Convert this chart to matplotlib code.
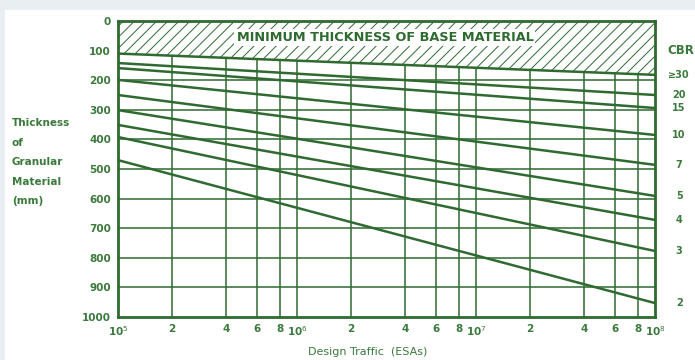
import matplotlib.pyplot as plt
import numpy as np

# CBR curves: thickness of granular material (mm) at 10^5 and 10^8 ESAs
cbr_labels = ["≥30", "20", "15", "10", "7", "5", "4", "3", "2"]
thick_at_1e5 = [110, 142, 159, 199, 250, 301, 351, 392, 470]
thick_at_1e8 = [182, 250, 294, 385, 486, 591, 672, 777, 953]
traffic_ends = [1e5, 1e8]

x_ticks = [1e5, 2e5, 4e5, 6e5, 8e5, 1e6, 2e6, 4e6, 6e6, 8e6,
           1e7, 2e7, 4e7, 6e7, 8e7, 1e8]
x_tick_labels = ["10$^5$", "2", "4", "6", "8", "10$^6$", "2", "4", "6", "8",
                 "10$^7$", "2", "4", "6", "8", "10$^8$"]
y_ticks = list(range(0, 1001, 100))

green = "#2f6a31"
text_green = "#3b7a3c"

fig = plt.figure(figsize=(6.95, 3.6), dpi=100, facecolor="#e9eef3")
fig.add_artist(plt.Rectangle((5 / 695, 0), 1, 1 - 10 / 360,
                             transform=fig.transFigure, color="white", zorder=-5))
ax = fig.add_axes([118 / 695, 1 - 317 / 360, (655 - 118) / 695, (317 - 21) / 360])
ax.set_facecolor("white")
ax.set_xscale("log")
ax.set_xlim(1e5, 1e8)
ax.set_ylim(1000, 0)

# grid
for xv in x_ticks[1:-1]:
    ax.axvline(xv, color=green, lw=1.3, alpha=0.85, zorder=1)
for yv in y_ticks[1:-1]:
    ax.axhline(yv, color=green, lw=1.3, alpha=0.85, zorder=1)

# hatched minimum thickness zone above the CBR>=30 line
plt.rcParams["hatch.linewidth"] = 0.7
ax.fill_between(traffic_ends, [0, 0], [thick_at_1e5[0], thick_at_1e8[0]],
                facecolor="white", edgecolor=green, hatch="///", lw=0, zorder=2)

for a, b in zip(thick_at_1e5, thick_at_1e8):
    ax.plot(traffic_ends, [a, b], color=green, lw=1.8, zorder=3)

ax.text(3.1e6, 56, "MINIMUM THICKNESS OF BASE MATERIAL", ha="center", va="center",
        fontsize=9.3, fontweight="bold", color=green, zorder=4,
        bbox=dict(facecolor="white", edgecolor="none", pad=1.5))

for lab, yv in zip(cbr_labels, thick_at_1e8):
    ax.text(1.045, yv, lab, transform=ax.get_yaxis_transform(), ha="center",
            va="center", fontsize=7, fontweight="bold", color=text_green)
ax.text(1.048, 98, "CBR", transform=ax.get_yaxis_transform(), ha="center",
        va="center", fontsize=8.5, fontweight="bold", color=text_green)

for s in ax.spines.values():
    s.set_color(green)
    s.set_linewidth(2)
ax.xaxis.set_minor_locator(plt.NullLocator())
ax.set_xticks(x_ticks)
ax.set_xticklabels(x_tick_labels)
ax.set_yticks(y_ticks)
ax.tick_params(length=0, colors=text_green, labelsize=7.5, pad=5)
for t in ax.get_xticklabels() + ax.get_yticklabels():
    t.set_fontweight("bold")

fig.text(12 / 695, 1 - 118 / 360, "Thickness\nof\nGranular\nMaterial\n(mm)",
         ha="left", va="top", fontsize=7.5, fontweight="bold", color=text_green,
         linespacing=2.2)
fig.text(368 / 695, 1 - 352 / 360, "Design Traffic  (ESAs)", ha="center",
         va="center", fontsize=8, color=text_green)

fig.savefig("out.png", dpi=100, facecolor=fig.get_facecolor())
